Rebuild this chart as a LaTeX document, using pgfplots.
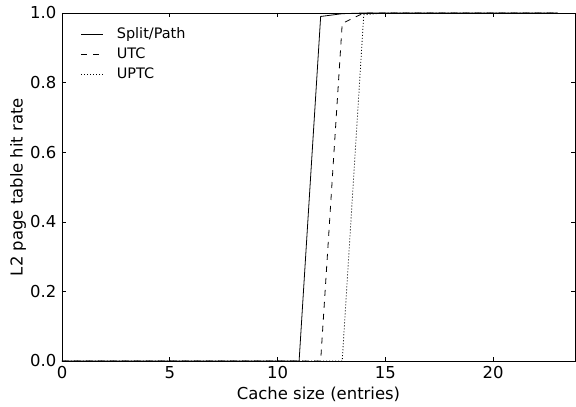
\documentclass[border=0pt]{standalone}
\usepackage{fontspec}
\setmainfont{DejaVu Sans}
\usepackage{pgfplots}
\pgfplotsset{compat=1.18}

\begin{document}
\fontsize{16.5}{19}\selectfont
\begin{tikzpicture}
\begin{axis}[
  scale only axis,
  width=513bp,
  height=348bp,
  xmin=0, xmax=23.8,
  ymin=0, ymax=1,
  xtick={0,5,10,15,20},
  ytick={0,0.2,0.4,0.6,0.8,1.0},
  yticklabel style={/pgf/number format/.cd,fixed,fixed zerofill,precision=1},
  /pgf/number format/assume math mode=true,
  tick label style={font=\fontsize{16.5}{19}\selectfont},
  label style={font=\fontsize{16.5}{19}\selectfont},
  tick align=inside,
  major tick length=4bp,
  tick style={black,line width=0.6pt},
  axis line style={line width=0.8pt},
  xlabel={Cache size (entries)},
  ylabel={L2 page table hit rate},
  xlabel style={yshift=3bp},
  ylabel style={yshift=-7bp},
  legend style={at={(0.031,0.97)},anchor=north west,draw=none,fill=none,
    font=\fontsize{14.5}{17}\selectfont,row sep=3bp,column sep=11bp},
  legend cell align=left,
  legend image code/.code={\draw[#1] (0bp,0bp) -- (22bp,0bp);},
  clip=false,
]
\addplot[black,line width=0.8pt] coordinates
  {(0,0) (1,0) (2,0) (3,0) (4,0) (5,0) (6,0) (7,0) (8,0) (9,0) (10,0) (11,0)
   (12,0.99) (13,0.998) (14,1) (15,1) (16,1) (17,1) (18,1) (19,1) (20,1) (21,1) (22,1) (23,1)};
\addplot[black,line width=0.8pt,dash pattern=on 6bp off 6bp] coordinates
  {(0,0) (1,0) (2,0) (3,0) (4,0) (5,0) (6,0) (7,0) (8,0) (9,0) (10,0) (11,0) (12,0)
   (13,0.97) (14,1) (15,1) (16,1) (17,1) (18,1) (19,1) (20,1) (21,1) (22,1) (23,1)};
\addplot[black,line width=0.8pt,dash pattern=on 1bp off 2bp] coordinates
  {(0,0) (1,0) (2,0) (3,0) (4,0) (5,0) (6,0) (7,0) (8,0) (9,0) (10,0) (11,0) (12,0) (13,0)
   (14,0.995) (15,1) (16,1) (17,1) (18,1) (19,1) (20,1) (21,1) (22,1) (23,1)};
\legend{Split/Path,UTC,UPTC}
\end{axis}
\pgfresetboundingbox
\path ([xshift=-62bp,yshift=-46bp]current axis.south west) rectangle ([xshift=1bp,yshift=13bp]current axis.north east);
\end{tikzpicture}
\end{document}
